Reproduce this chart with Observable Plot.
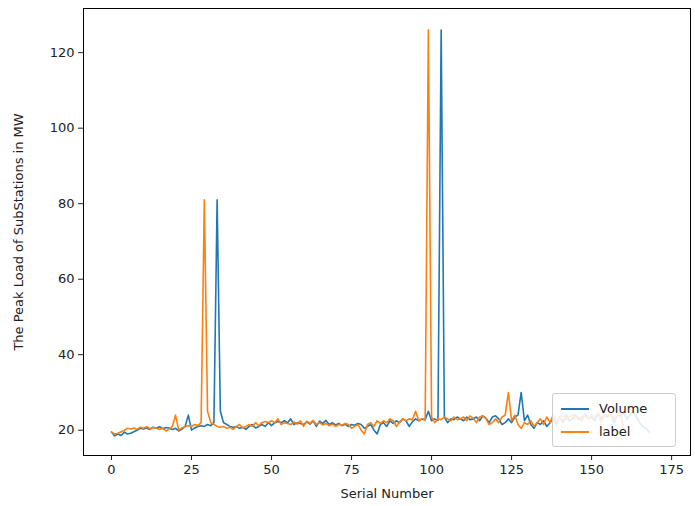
<!DOCTYPE html>
<html><head>
<script src="https://cdn.jsdelivr.net/npm/d3@7"></script>
<script src="https://cdn.jsdelivr.net/npm/@observablehq/plot@0.6"></script>
<style>
body{margin:0;background:#fff;font-family:"DejaVu Sans",sans-serif}
#wrap{position:relative;width:695px;height:506px}
#legend{position:absolute;left:552px;top:393px;width:122px;height:52px;border:1px solid #ccc;border-radius:3px;background:rgba(255,255,255,0.85);font-size:13px;color:#222}
.row{display:flex;align-items:center;height:23px;padding-left:8px}
.sw{width:28px;height:2px;margin-right:10px}
</style>
</head><body>
<div id="wrap"><div id="chart"></div>
<div id="legend"><div class="row" style="margin-top:3px"><span class="sw" style="background:#1f77b4"></span>Volume</div>
<div class="row"><span class="sw" style="background:#ff7f0e"></span>label</div></div></div>
<script>
const volume = [19.5,18.5,19,18.6,19.5,19,19.2,19.6,20,20.5,
20.3,20.6,20.2,20.8,20.5,20.9,20.4,20.7,20.6,20.2,
20.5,19.8,20.3,21,24,20,20.6,21,21.2,21,
21.5,21.2,22,81,25,22,21.5,21,20.8,21,
20.5,20.8,20.2,21,21.5,20.6,21,21.5,21,22,
21.2,22,22.3,22,22.5,22,23,21.5,22,21.8,
21.5,22.2,21.6,22.5,21,22.4,21.8,22.6,21.5,22,
21.4,21.8,21.2,21.6,21,21.5,21.3,21.8,21.5,20.5,
21,21.5,20,19,21.5,22,21,22.5,21.8,22.5,
22,23,22.5,21,22.2,23,22.5,23,22.8,25,
22.5,23,22.6,126,23.5,22,23,22.8,23.5,23,
22.5,23.5,22.8,23,23.5,22.5,23.8,23.2,22,23.5,
23.8,23,21.5,22,23,22,23.5,24,30,22.5,
24,21.5,20.5,22,21.5,22.5,21,22,23,21.5,
23.5,22,24,22.5,23,24,22.8,23.5,24,23,
23.5,22.5,24.5,23,24,23.5,24.5,22,24,23.8,
24.5,23,24,25,23.5,22,21,20.5,19.5];
const label = [19.5,19,19.2,19.6,20,20.5,
20.3,20.6,20.2,20.8,20.5,20.9,20.4,20.7,20.6,20.2,
20.5,19.8,20.3,21,24,20,20.6,21,21.2,21,
21.5,21.2,22,81,25,22,21.5,21,20.8,21,
20.5,20.8,20.2,21,21.5,20.6,21,21.5,21,22,
21.2,22,22.3,22,22.5,22,23,21.5,22,21.8,
21.5,22.2,21.6,22.5,21,22.4,21.8,22.6,21.5,22,
21.4,21.8,21.2,21.6,21,21.5,21.3,21.8,21.5,20.5,
21,21.5,20,19,21.5,22,21,22.5,21.8,22.5,
22,23,22.5,21,22.2,23,22.5,23,22.8,25,
22.5,23,22.6,126,23.5,22,23,22.8,23.5,23,
22.5,23.5,22.8,23,23.5,22.5,23.8,23.2,22,23.5,
23.8,23,21.5,22,23,22,23.5,24,30,22.5,
24,21.5,20.5,22,21.5,22.5,21,22,23,21.5,
23.5,22,24,22.5,23,24,22.8,23.5,24,23,
23.5,22.5,24.5,23,24,23.5,24.5,22,24,23.8,
24.5,23,24,25,20.5];
const xTicks = [0,25,50,75,100,125,150,175];
const yTicks = [20,40,60,80,100,120];

const chart = Plot.plot({
  width: 695, height: 506,
  marginLeft: 83, marginRight: 5, marginTop: 8, marginBottom: 51,
  style: {fontSize: "13px", fontFamily: "DejaVu Sans, sans-serif", color: "#222"},
  x: {domain: [-8.75, 180.9], ticks: xTicks, label: "Serial Number", labelAnchor: "center", labelArrow: "none", labelOffset: 42, tickSize: 5},
  y: {domain: [13.3, 131.7], ticks: yTicks, label: "The Peak Load of SubStations in MW", labelAnchor: "center", labelArrow: "none", labelOffset: 70, tickSize: 5},
  marks: [
    Plot.frame({stroke: "#000"}),
    Plot.lineY(volume, {x: (d, i) => i, y: d => d, stroke: "#1f77b4", strokeWidth: 1.6}),
    Plot.lineY(label, {x: (d, i) => i, y: d => d, stroke: "#ff7f0e", strokeWidth: 1.6})
  ]
});
d3.select("#chart").append(() => chart);
</script>
</body></html>
